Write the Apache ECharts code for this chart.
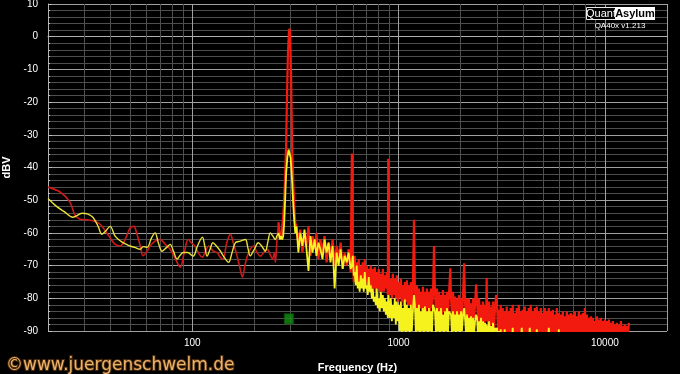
<!DOCTYPE html>
<html><head><meta charset="utf-8">
<script src="https://cdn.jsdelivr.net/npm/echarts@6/dist/echarts.min.js"></script>
<style>html,body{margin:0;padding:0;background:#000;}#c{width:680px;height:374px;}</style>
</head><body><div id="c"></div>
<script>
// ---- data (frequency Hz, level dBV) ----
const redLow = [[20,-46],[22.9,-47.5],[25.5,-50.5],[27,-54.5],[28.6,-55.8],[31,-56],[34,-56.5],[36,-57.5],[38,-59.5],[40,-61.5],[42.3,-63.5],[44.7,-64],[47.3,-62],[50,-58.5],[52,-58],[54,-60.4],[56,-64],[57.8,-67],[60.5,-65.5],[62.5,-64],[66,-62.5],[69.9,-62],[74,-63.5],[78.2,-65],[83,-68],[87.5,-70.5],[91.5,-66],[95.6,-62],[99,-63],[103,-64],[108,-66.5],[112,-67.4],[116,-65.5],[120,-64],[126,-65.5],[132,-66],[137,-67.5],[141,-68],[147,-63],[153,-60.4],[158,-63],[165,-67.1],[170,-70.5],[175,-73.5],[180,-70],[185,-67.1],[191,-65],[198,-64],[206,-66],[214,-67.1],[222,-66],[231,-65],[238,-66.5],[245,-68],[250,-66],[253,-69],[257,-63],[262,-56.8]];
const redPeak = [[262,-56.8],[266,-61],[270,-62],[273,-58],[276,-55],[279,-50],[282,-43],[285,-34],[288,-18],[291,-5],[294,1],[296,2.5],[298,1],[301,-10],[305,-34],[309,-45],[313,-53],[316,-57]];
const yellowLow = [[20,-49.5],[22,-51.9],[24,-53.5],[26.4,-55.2],[29.3,-54],[31,-54.2],[33,-55.2],[35,-58],[36.5,-60.4],[38,-59.5],[40,-58],[42.3,-61],[45,-62.5],[48,-63.5],[50,-64],[53,-64.5],[55.9,-65],[58,-64.2],[60.5,-64.4],[63.5,-61.5],[66.1,-60],[68.5,-63],[71.5,-65.6],[75,-64.5],[78.2,-63.5],[81,-65.5],[84.6,-68],[87,-67],[90.4,-66],[95,-66],[101,-67.1],[106,-64],[112,-61.3],[115,-64],[118,-67.1],[122,-65],[126,-63],[131,-64],[137,-65.6],[143,-67.5],[150,-69],[156,-66],[162,-63],[171,-62.5],[181,-62],[186,-64.5],[191,-67],[200,-65],[209,-63],[217,-64],[226,-65.6],[233,-62.5],[239,-60],[246,-61],[253,-62],[257,-61],[262,-60]];
const yellowPeak = [[262,-60],[266,-62],[270,-61],[273,-62],[276,-61],[279,-57],[282,-50],[285,-42],[289,-37],[293,-34.5],[297,-34.5],[300,-37],[304,-43],[308,-50],[312,-56],[316,-60]];

// 320 .. 594 Hz
const lowMidFreq = [
  320,327,334,342,350,358,366,374,383,392,
  400,409,418,428,438,448,458,468,479,490,
  501,512,524,536,548,561,573,586,594
];
const redLowMid = [
  -58,-63,-59,-66,-60,-64,-58,-67,-61,-65,
  -60,-68,-62,-66,-61,-69,-63,-67,-62,-70,
  -64,-68,-63,-71,-66,-70,-65,-72,-35.7
];
const yellowLowMid = [
  -58,-66,-60,-64,-59,-65,-71.6,-61,-66,-62,
  -67,-63,-65,-68,-62,-66,-63,-69,-64,-77,
  -66,-70,-65,-71,-67,-69,-66,-71,-70
];
// 600 Hz .. 2.97 kHz (harmonics of 297 Hz included)
const midFreq = [
  600,607,613,620,627,634,641,648,656,663,
  671,678,686,693,701,709,717,725,733,742,
  750,758,767,776,784,793,802,811,820,830,
  839,848,858,868,877,887,891,
  897,907,917,928,938,949,959,970,981,992,
  1003,1014,1026,1037,1049,1061,1073,1085,1097,1110,
  1122,1135,1147,1160,1173,1188,1200,1213,1227,1241,
  1255,1269,1283,1297,1312,1327,1342,1357,1372,1388,
  1403,1419,1435,1451,1468,1485,1501,1518,1535,1552,
  1570,1587,1605,1623,1641,1660,1679,1698,1717,1736,
  1755,1782,1795,1815,1836,1856,1877,1898,1920,1941,
  1963,1985,2007,2030,2053,2079,2099,2123,2147,2171,
  2195,2220,2245,2270,2296,2322,2348,2376,2401,2428,
  2455,2483,2510,2539,2567,2596,2625,2655,2673,
  2684,2715,2745,2776,2807,2839,2870,2903,2935,2970
];
const redMid = [
  -68,-75,-67,-74,-69,-75,-68,-76,-70,-75,
  -69,-76,-68,-75,-70,-76,-71,-77,-70,-77,
  -71,-77,-70.5,-78,-72,-77,-71,-78,-72.5,-78,
  -71,-78,-73,-77,-72,-79,-37.3,
  -73,-79,-74,-80,-72.5,-79,-74,-80,-73,-81,
  -75,-80,-74,-81,-76,-82,-75,-81,-74.5,-82,
  -76,-82,-75,-83,-77,-56,-77.5,-83,-76,-84,
  -77,-83,-78,-84,-76.5,-83,-78,-84,-77,-83,
  -78,-84,-77,-83,-79,-64,-78,-84,-77,-85,
  -78,-84,-79,-85,-77.5,-84,-79,-85,-78,-84,
  -79,-70.8,-80,-85,-78,-86,-79.5,-85,-80,-86,
  -79,-85,-80,-86,-79,-69.3,-81,-86,-80,-87,
  -80,-86,-81.5,-87,-80,-86,-82,-75.7,-81,-87,
  -80,-88,-82,-87,-81,-88,-82,-87,-73.8,
  -82,-88,-81,-89,-82.5,-88,-81,-89,-83,-79
];
const yellowMid = [
  -67,-73,-72,-76,-70,-77,-75,-78,-73,-77,
  -74,-78,-72,-77,-76,-79,-73.5,-78,-76,-80,
  -77,-81,-79.6,-82,-77,-83,-80,-84,-78,-83,
  -79,-84,-80,-85,-81,-86,-79,
  -81,-86,-80,-87,-82,-86,-80,-88,-81,-87,
  -82,-90,-81,-91,-83,-90,-80.4,-91,-82,-90,
  -83,-91,-82,-90,-84,-79,-82,-91,-83,-90,
  -82,-91,-84,-90,-83,-91,-82.5,-90,-84,-91,
  -83,-90,-84,-91,-82,-82,-84,-91,-83,-90,
  -84,-91,-83,-90,-85,-91,-84,-90,-83,-91,
  -84,-84,-85,-91,-84,-90,-85,-91,-84,-90,
  -85,-91,-84,-90,-85,-83,-86,-91,-85,-92,
  -86,-91,-85.5,-92,-86,-91,-87,-85,-86,-92,
  -87,-91,-86,-92,-87,-92,-87.5,-91,-88,
  -88,-92,-87,-92,-88.5,-92,-87.5,-92,-89,-90
];
// 3 kHz .. 13 kHz
const highFreq = [
  3001,3035,3069,3097,3126,3161,3197,3233,3269,3306,
  3343,3381,3419,3457,3496,3535,3575,3615,3656,3697,
  3739,3781,3823,3866,3910,3954,3998,4043,4089,4135,
  4181,4228,4276,4324,4372,4421,4471,4521,4572,4624,
  4676,4728,4781,4835,4890,4945,5000,5056,5113,5171,
  5229,5288,5347,5407,5468,5529,5592,5654,5718,5782,
  5848,5914,5980,6047,6115,6184,6253,6324,6395,6467,
  6539,6613,6687,6762,6838,6915,6993,7072,7151,7231,
  7313,7395,7478,7562,7647,7733,7820,7908,7997,8087,
  8178,8270,8363,8457,8552,8648,8745,8844,8943,9043,
  9145,9248,9352,9457,9563,9671,9779,9889,10000,10112,
  10226,10341,10457,10575,10694,10814,10935,11058,11183,11308,
  11435,11564,11694,11825,11958,12093,12229,12366,12505,12646,
  12788,12932,13077
];
const redHigh = [
  -82,-90,-83.5,-91,-82,-92,-83,-91,-84,-92,
  -82.5,-91,-84,-92,-83,-91,-82,-92,-84.5,-91,
  -83,-92,-82,-91,-84,-92,-83.5,-91,-82.5,-92,
  -84,-91,-83,-92,-82,-91,-84,-92,-83,-91,
  -82.5,-92,-84,-91,-83,-92,-84.5,-91,-83,-92,
  -84,-91,-83,-92,-84,-91,-83.5,-92,-85,-91,
  -83,-92,-84.5,-91,-85,-92,-84,-91,-85.5,-92,
  -84,-91,-85,-92,-84.5,-91,-85,-92,-84,-91,
  -85.5,-92,-84,-91,-85,-92,-84.5,-91,-83,-92,
  -85,-91,-86,-92,-85.5,-91,-86,-92,-87,-91,
  -85.5,-92,-86.5,-91,-86,-92,-87,-91,-86.5,-92,
  -87,-91,-86.5,-92,-87.5,-91,-87,-92,-88,-91,
  -87.5,-92,-88,-91,-87,-92,-88.5,-91,-88,-92,
  -88.5,-91,-87.5
];
const yellowHigh = [
  -89,-93,-90,-94,-89.5,-94,-93,-94,-89.5,-94,
  -93,-94,-93,-94,-94,-93,-89,-94,-93,-94,
  -93,-94,-93,-94,-93,-89,-94,-93,-94,-94,
  -93,-94,-93,-89,-94,-93,-94,-94,-93,-94,
  -89.5,-94,-93,-94,-93,-94,-94,-93,-94,-94,
  -93,-94,-89,-94,-93,-94,-94,-93,-94,-94,
  -93,-94,-89.5,-94,-95
];
const markerPoint = [[294,-86.3]];
const minorGridFreqs = [30,40,50,60,70,80,90,200,300,400,500,600,700,800,900,2000,3000,4000,5000,6000,7000,8000,9000];

// ---- chart ----
const FONT = '"Liberation Sans", Arial, sans-serif';
const pair = (fs, vs) => vs.map((v, i) => [fs[i], v]);
const redFull = redPeak.concat(pair(lowMidFreq, redLowMid), pair(midFreq, redMid), pair(highFreq, redHigh));
const yellowFull = yellowPeak.concat(pair(lowMidFreq, yellowLowMid), pair(midFreq, yellowMid), pair(highFreq, yellowHigh));
const RED = '#f21a0e', RED_DARK = '#cc1a1a', YEL = '#f6f21e', YEL_SOFT = '#e8e03a';

const chart = echarts.init(document.getElementById('c'), null, {renderer: 'canvas'});
chart.setOption({
  backgroundColor: '#000',
  animation: false,
  grid: {left: 48, right: 13, top: 4, bottom: 43, containLabel: false, outerBoundsMode: 'none'},
  xAxis: {
    type: 'log', logBase: 10, min: 20, max: 20000,
    name: 'Frequency (Hz)', nameLocation: 'middle', nameGap: 31,
    nameTextStyle: {color: '#fff', fontWeight: 'bold', fontSize: 11, fontFamily: FONT},
    axisLine: {show: true, lineStyle: {color: '#b0b0b0'}},
    axisTick: {show: true, length: 3, lineStyle: {color: '#b0b0b0'}},
    axisLabel: {color: '#fff', fontSize: 10, fontFamily: FONT, margin: 7, showMinLabel: false, showMaxLabel: false,
      formatter: v => String(Math.round(v))},
    splitLine: {show: true, lineStyle: {color: '#a0a0a0', width: 1}}
  },
  yAxis: {
    type: 'value', min: -90, max: 10, interval: 10,
    name: 'dBV', nameLocation: 'middle', nameGap: 34,
    nameTextStyle: {color: '#fff', fontWeight: 'bold', fontSize: 11, fontFamily: FONT},
    axisLine: {show: true, lineStyle: {color: '#b0b0b0'}},
    axisTick: {show: true, inside: true, length: 4, lineStyle: {color: '#c0c0c0'}},
    minorTick: {show: true, splitNumber: 5, length: 2, lineStyle: {color: '#c0c0c0'}},
    axisLabel: {color: '#fff', fontSize: 10, fontFamily: FONT, margin: 10},
    splitLine: {show: true, lineStyle: {color: '#a0a0a0', width: 1}},
    minorSplitLine: {show: true, lineStyle: {color: '#4e4e4e', width: 1}}
  },
  series: [
    {type: 'line', data: [], silent: true, z: 1,
      markLine: {silent: true, z: 1, symbol: ['none', 'none'], label: {show: false}, animation: false,
        lineStyle: {color: '#4e4e4e', type: 'solid', width: 1},
        emphasis: {disabled: true},
        data: minorGridFreqs.map(f => ({xAxis: f}))}},
    {type: 'line', data: redLow, showSymbol: false, smooth: 0.35, z: 3, lineStyle: {color: RED_DARK, width: 1.6}, itemStyle: {color: RED_DARK}},
    {type: 'line', data: redFull, showSymbol: false, z: 3, lineStyle: {color: RED, width: 2.2, join: 'bevel'}, itemStyle: {color: RED}},
    {type: 'line', data: yellowLow, showSymbol: false, smooth: 0.35, z: 4, lineStyle: {color: YEL_SOFT, width: 1.4}, itemStyle: {color: YEL_SOFT}},
    {type: 'line', data: yellowFull, showSymbol: false, z: 4, lineStyle: {color: YEL, width: 1.8, join: 'bevel'}, itemStyle: {color: YEL}},
    {type: 'scatter', data: markerPoint, symbol: 'rect', symbolSize: [9, 10], z: 6,
      itemStyle: {color: '#138f13', borderColor: '#0a5a0a', borderWidth: 1}}
  ],
  graphic: [
    {type: 'rect', z: 100, shape: {x: 586.5, y: 7.5, width: 29, height: 12}, style: {fill: '#000', stroke: '#e8e8e8', lineWidth: 1}},
    {type: 'text', z: 101, x: 601, y: 14, style: {text: 'Quant', fill: '#fff', font: '11px ' + FONT, textAlign: 'center', textVerticalAlign: 'middle'}},
    {type: 'rect', z: 100, shape: {x: 615, y: 7, width: 40, height: 13}, style: {fill: '#fff'}},
    {type: 'text', z: 101, x: 635, y: 14, style: {text: 'Asylum', fill: '#000', font: 'bold 11px ' + FONT, textAlign: 'center', textVerticalAlign: 'middle'}},
    {type: 'text', z: 101, x: 620, y: 26, style: {text: 'QA40x v1.213', fill: '#fff', font: '8px ' + FONT, textAlign: 'center', textVerticalAlign: 'middle'}},
    {type: 'text', z: 101, x: 6, y: 366, style: {text: '©www.juergenschwelm.de', fill: '#ecb36a', stroke: '#4a2a0c', lineWidth: 2, strokeFirst: true,
      font: '17px "DejaVu Sans", sans-serif', textAlign: 'left', textVerticalAlign: 'middle'}}
  ]
});
</script></body></html>
